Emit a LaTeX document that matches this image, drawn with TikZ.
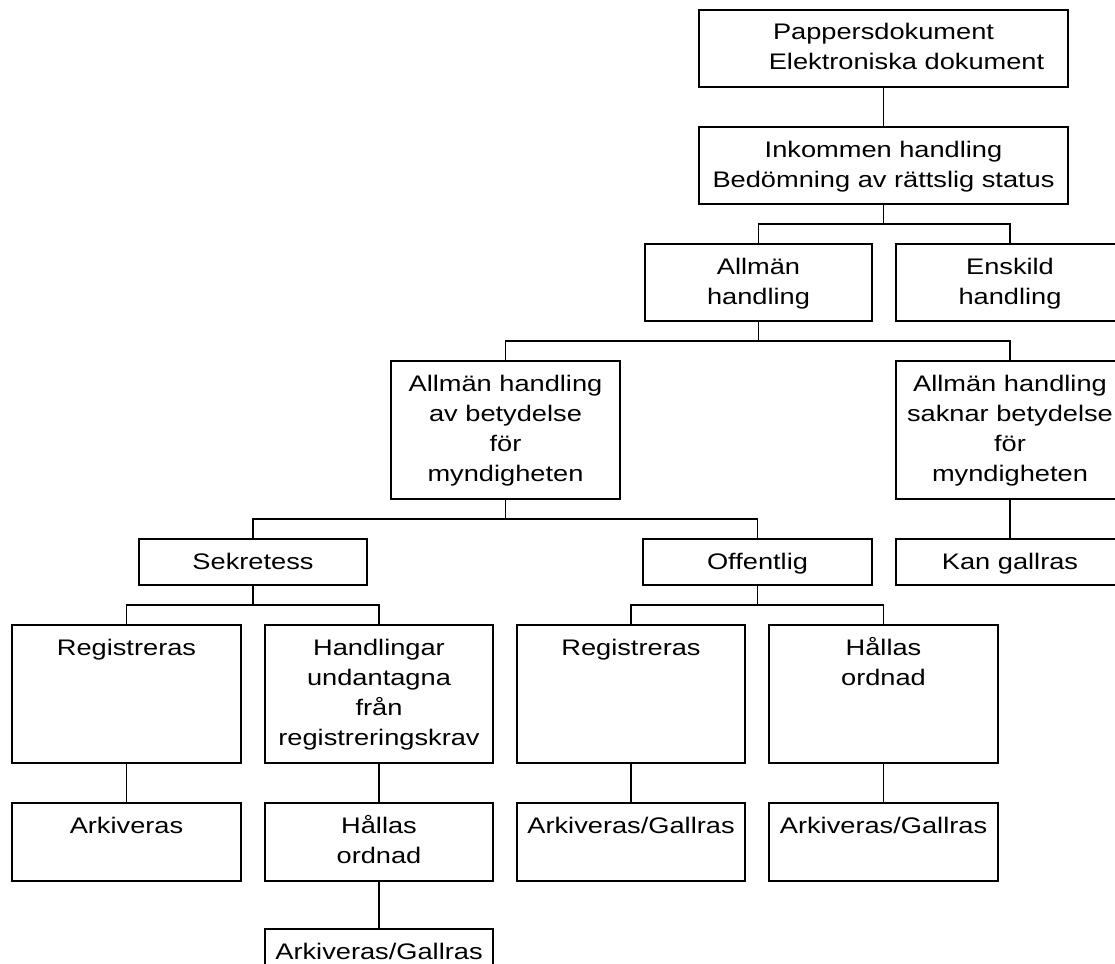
\documentclass[tikz,border=0pt]{standalone}
\usepackage{fontspec}
\setmainfont{Liberation Sans}[FakeStretch=1.21]
\tikzset{
  boxst/.style={draw, line width=1.8pt, rectangle, inner sep=0pt, outer sep=0pt, anchor=north west},
  txt/.style={inner sep=0pt, outer sep=0pt, anchor=base, font=\fontsize{22.5}{30}\selectfont},
  conn/.style={line width=1.8pt}
}
\newcommand\Bx[6]{%
  \node[boxst, minimum width=#4pt, minimum height=#5pt] (#1) at (#2pt,-#3pt) {};
  \node[txt] (#1t) at ([yshift=-30pt]#1.north) {\parbox[t]{#4pt}{\centering #6}};
}
\begin{document}
\begin{tikzpicture}
\useasboundingbox (0,0) rectangle (1115pt,-963pt);
\Bx{p}{699}{10}{369}{77}{Pappersdokument\\\hspace*{46pt}Elektroniska dokument}
\Bx{i}{699}{127}{369}{77}{Inkommen handling\\Bedömning av rättslig status}
\Bx{a}{645}{244}{227}{77}{Allmän\\handling}
\Bx{e}{896}{244}{228}{77}{Enskild\\handling}
\Bx{ab}{391}{361}{229}{138}{Allmän handling\\av betydelse\\för\\myndigheten}
\Bx{sb}{896}{361}{228}{138}{Allmän handling\\saknar betydelse\\för\\myndigheten}
\Bx{sek}{139}{539}{228}{46}{Sekretess}
\Bx{off}{643}{539}{229}{46}{Offentlig}
\Bx{kan}{896}{539}{228}{46}{Kan gallras}
\Bx{ra}{12}{625}{229}{138}{Registreras}
\Bx{ha}{265}{625}{228}{138}{Handlingar\\undantagna\\från\\registreringskrav}
\Bx{rb}{517}{625}{228}{138}{Registreras}
\Bx{hb}{769}{625}{229}{138}{Hållas\\ordnad}
\Bx{ark}{12}{803}{229}{78}{Arkiveras}
\Bx{ho}{265}{803}{228}{78}{Hållas\\ordnad}
\Bx{ga}{517}{803}{228}{78}{Arkiveras/Gallras}
\Bx{gb}{769}{803}{229}{78}{Arkiveras/Gallras}
\Bx{gc}{265}{929}{228}{78}{Arkiveras/Gallras}
% connectors
\draw[conn] (p.south) -- (i.north);
\draw[conn] (i.south) -- ++(0,-20pt) -| (a.north);
\draw[conn] (i.south) -- ++(0,-20pt) -| (e.north);
\draw[conn] (a.south) -- ++(0,-20pt) -| (ab.north);
\draw[conn] (a.south) -- ++(0,-20pt) -| (sb.north);
\draw[conn] (ab.south) -- ++(0,-20pt) -| (sek.north);
\draw[conn] (ab.south) -- ++(0,-20pt) -| (off.north);
\draw[conn] (sb.south) -- (kan.north);
\draw[conn] (sek.south) -- ++(0,-20pt) -| (ra.north);
\draw[conn] (sek.south) -- ++(0,-20pt) -| (ha.north);
\draw[conn] (off.south) -- ++(0,-20pt) -| (rb.north);
\draw[conn] (off.south) -- ++(0,-20pt) -| (hb.north);
\draw[conn] (ra.south) -- (ark.north);
\draw[conn] (ha.south) -- (ho.north);
\draw[conn] (ho.south) -- (gc.north);
\draw[conn] (rb.south) -- (ga.north);
\draw[conn] (hb.south) -- (gb.north);
\end{tikzpicture}
\end{document}
